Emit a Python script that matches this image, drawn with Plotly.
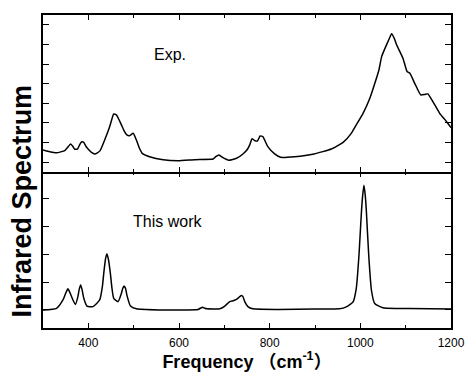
import plotly.graph_objects as go

# Experimental spectrum (top panel)
exp_freq = [300, 315, 330, 348, 356, 361, 366, 370, 376, 381, 385, 390, 395, 400, 407, 414, 420, 426, 436, 447,
            452, 456, 462, 468, 473, 479, 485, 491, 499, 506, 512, 519, 535, 565, 598, 635, 675, 681, 688, 697,
            704, 710, 727, 741, 751, 756, 761, 767, 773, 779, 785, 796, 811, 824, 855, 898, 936, 962, 980, 991,
            1006, 1021, 1032, 1041, 1047, 1056, 1063, 1069, 1075, 1080, 1094, 1103, 1109, 1120, 1133, 1142, 1149,
            1160, 1175, 1190, 1200]
exp_int = [1.12, 1.03, 0.98, 1.09, 1.30, 1.43, 1.30, 1.16, 1.16, 1.40, 1.53, 1.51, 1.30, 1.16, 1.00, 0.92, 0.98,
           1.09, 1.63, 2.31, 2.70, 2.96, 2.91, 2.65, 2.40, 2.10, 1.89, 1.85, 1.97, 1.63, 1.25, 0.95, 0.78, 0.62,
           0.57, 0.63, 0.66, 0.78, 0.87, 0.73, 0.65, 0.60, 0.70, 0.92, 1.16, 1.38, 1.70, 1.60, 1.58, 1.84, 1.80,
           1.29, 0.92, 0.75, 0.78, 0.92, 1.17, 1.51, 1.97, 2.40, 2.99, 3.76, 4.52, 5.20, 5.88, 6.39, 6.75, 7.04,
           6.80, 6.48, 5.80, 5.12, 5.04, 4.52, 3.93, 3.95, 3.98, 3.59, 2.99, 2.57, 2.26]

# Calculated spectrum (bottom panel, "This work")
calc_freq = [300, 330, 344, 350, 355, 360, 366, 371.5, 377, 380, 383, 386, 390, 397, 410, 425, 431, 434, 438, 441,
             444, 448.6, 452, 456, 465.5, 473, 476, 479, 482, 485, 493, 506, 555, 600, 642, 647, 652, 657, 662,
             690, 701, 712, 721, 730, 734, 738, 741, 745, 752, 763, 820, 900, 954, 969, 984, 991, 997, 1002,
             1005, 1008, 1011, 1013.4, 1018.5, 1024.5, 1031.7, 1050, 1107, 1200]
calc_int = [0, 0.06, 0.36, 0.60, 0.76, 0.60, 0.36, 0.20, 0.48, 0.75, 0.90, 0.75, 0.42, 0.14, 0.12, 0.36, 0.85,
            1.32, 1.85, 2.02, 1.85, 1.32, 0.80, 0.42, 0.30, 0.60, 0.78, 0.86, 0.78, 0.54, 0.14, 0.04, 0, 0,
            0.02, 0.06, 0.10, 0.06, 0.04, 0.04, 0.14, 0.30, 0.34, 0.42, 0.48, 0.52, 0.48, 0.30, 0.12, 0.04,
            0.02, 0.03, 0.04, 0.11, 0.29, 0.77, 1.97, 3.41, 4.10, 4.49, 4.10, 3.53, 1.97, 0.71, 0.23, 0.08,
            0.05, 0.03]

x_tickvals = [400, 600, 800, 1000, 1200]
x_ticktext = ["400", "600", "800", "1000", "1200"]
x_minor_ticks = [500, 700, 900, 1100]

FONT = "Arial, Liberation Sans, Helvetica, Noto Sans CJK SC, sans-serif"

fig = go.Figure()
fig.add_trace(go.Scatter(x=calc_freq, y=calc_int, mode="lines", xaxis="x", yaxis="y",
                         line=dict(color="black", width=1.5, shape="spline", smoothing=0.5),
                         showlegend=False, hoverinfo="skip"))
fig.add_trace(go.Scatter(x=exp_freq, y=exp_int, mode="lines", xaxis="x2", yaxis="y2",
                         line=dict(color="black", width=1.5, shape="spline", smoothing=0.4),
                         showlegend=False, hoverinfo="skip"))
# empty traces so the overlay tick-only axes get drawn
fig.add_trace(go.Scatter(x=[], y=[], xaxis="x3", yaxis="y", showlegend=False, hoverinfo="skip"))
fig.add_trace(go.Scatter(x=[], y=[], xaxis="x4", yaxis="y2", showlegend=False, hoverinfo="skip"))

split = 156 / 313


def xax(**kw):
    d = dict(range=[300, 1200], linecolor="black", linewidth=1.5, mirror=False,
             ticks="inside", ticklen=5, tickwidth=1, tickcolor="black",
             tickvals=x_tickvals, ticktext=x_ticktext,
             minor=dict(tickvals=x_minor_ticks, ticks="inside", ticklen=3, tickwidth=1, tickcolor="black"),
             showgrid=False, zeroline=False, showticklabels=False, automargin=False)
    d.update(kw)
    return d


common_y = dict(showline=True, linecolor="black", linewidth=1.5, mirror="ticks",
                ticks="inside", ticklen=6, tickwidth=1, tickcolor="black",
                showticklabels=False, showgrid=False, zeroline=False, dtick=1, automargin=False)

fig.update_layout(
    width=469, height=372,
    margin=dict(l=43, r=18, t=15, b=44),
    paper_bgcolor="white", plot_bgcolor="white",
    font=dict(family=FONT, color="black"),
    xaxis=xax(anchor="y", side="bottom", showline=True, showticklabels=True, ticklabelstandoff=3,
              tickfont=dict(size=12, family=FONT, color="black"),
              title=dict(text="<b>Frequency （cm<sup>-1</sup>）</b>",
                         font=dict(size=18, family=FONT, color="black"), standoff=2)),
    xaxis3=xax(anchor="y", overlaying="x", side="top", showline=False, matches="x"),
    xaxis2=xax(anchor="y2", side="top", showline=True, matches="x"),
    xaxis4=xax(anchor="y2", overlaying="x2", side="bottom", showline=True, matches="x"),
    yaxis=dict(**common_y, domain=[0, split], range=[-0.65, 4.97], tick0=0),
    yaxis2=dict(**common_y, domain=[split, 1], range=[0, 8], tick0=0.5),
    annotations=[
        dict(text="<b>Infrared Spectrum</b>", textangle=-90, xref="paper", yref="paper",
             x=-0.051, y=0.405, xanchor="center", yanchor="middle", showarrow=False,
             font=dict(size=27, family=FONT, color="black")),
        dict(text="Exp.", xref="paper", yref="paper", x=0.312, y=0.874, xanchor="center",
             yanchor="middle", showarrow=False, font=dict(size=16, family=FONT, color="black")),
        dict(text="This work", xref="paper", yref="paper", x=0.3056, y=0.34, xanchor="center",
             yanchor="middle", showarrow=False, font=dict(size=16, family=FONT, color="black")),
    ],
)

fig.write_html("out.html")
